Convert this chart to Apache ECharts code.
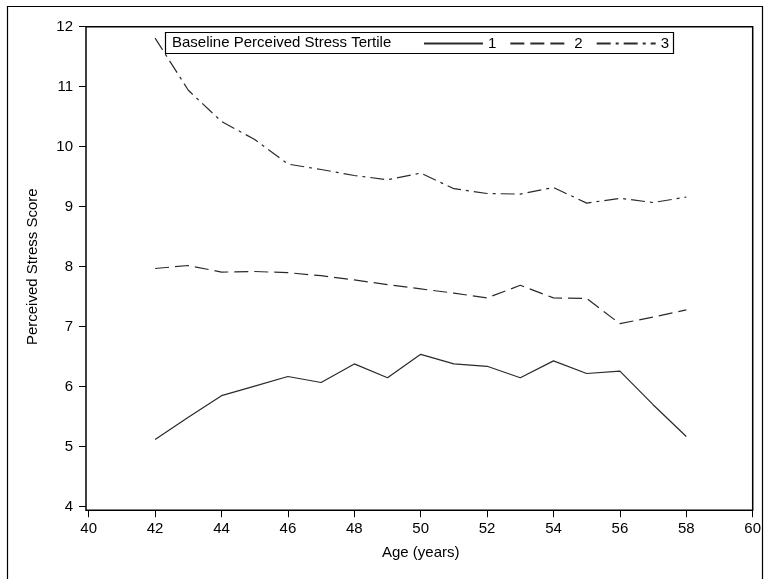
<!DOCTYPE html>
<html>
<head>
<meta charset="utf-8">
<script src="https://cdn.jsdelivr.net/npm/echarts@6/dist/echarts.min.js"></script>
<style>
  html, body { margin: 0; padding: 0; background: #fff; }
  #chart { width: 765px; height: 579px; }
</style>
</head>
<body>
<div id="chart"></div>
<script>
// Mean perceived stress score by age, split by baseline stress tertile
const ages = [42, 43, 44, 45, 46, 47, 48, 49, 50, 51, 52, 53, 54, 55, 56, 57, 58];
const tertile1 = [5.12, 5.49, 5.85, 6.01, 6.17, 6.07, 6.38, 6.15, 6.54, 6.38, 6.34, 6.15, 6.43, 6.22, 6.26, 5.70, 5.17];
const tertile2 = [7.97, 8.02, 7.91, 7.92, 7.90, 7.85, 7.78, 7.70, 7.63, 7.56, 7.48, 7.69, 7.48, 7.47, 7.05, 7.16, 7.28];
const tertile3 = [11.81, 10.94, 10.42, 10.12, 9.71, 9.62, 9.52, 9.45, 9.56, 9.30, 9.22, 9.21, 9.32, 9.06, 9.14, 9.07, 9.16];
const seriesNames = ['1', '2', '3'];
const legendTitle = 'Baseline Perceived Stress Tertile';
const xRange = { min: 40, max: 60, step: 2 };
const yRange = { min: 4, max: 12, step: 1 };

const FONT = '"Liberation Sans", Arial, sans-serif';
const INK = '#000';
const LINE = '#2a2a2a';

const pairs = (ys) => ages.map((a, i) => [a, ys[i]]);

const chart = echarts.init(document.getElementById('chart'), null, { renderer: 'canvas' });

const lineSeries = (name, ys, type) => ({
  name,
  type: 'line',
  data: pairs(ys),
  symbol: 'none',
  showSymbol: false,
  silent: true,
  animation: false,
  z: 2,
  lineStyle: { color: LINE, width: 1.2, type },
  itemStyle: { color: LINE }
});

chart.setOption({
  animation: false,
  backgroundColor: '#fff',
  grid: { left: 88.7, right: 12.3, top: 26.7, bottom: 72.3, containLabel: false },
  xAxis: {
    type: 'value',
    min: xRange.min, max: xRange.max, interval: xRange.step,
    offset: 3.5,
    name: 'Age (years)',
    nameLocation: 'middle',
    nameGap: 35,
    nameTextStyle: { color: INK, fontSize: 15, fontFamily: FONT },
    axisLine: { show: false },
    axisTick: { show: true, length: 7, lineStyle: { color: INK, width: 1 } },
    axisLabel: { color: INK, fontSize: 15, fontFamily: FONT, margin: 11 },
    splitLine: { show: false }
  },
  yAxis: {
    type: 'value',
    min: yRange.min, max: yRange.max, interval: yRange.step,
    offset: 2.7,
    name: 'Perceived Stress Score',
    nameLocation: 'middle',
    nameGap: 46,
    nameTextStyle: { color: INK, fontSize: 15, fontFamily: FONT },
    axisLine: { show: false },
    axisTick: { show: true, length: 7, lineStyle: { color: INK, width: 1 } },
    axisLabel: { color: INK, fontSize: 15, fontFamily: FONT, margin: 13 },
    splitLine: { show: false }
  },
  legend: {
    data: seriesNames,
    left: 423, top: 36,
    orient: 'horizontal',
    padding: 0,
    itemWidth: 59, itemHeight: 14, itemGap: 13,
    z: 10,
    selectedMode: false,
    // line samples only, no marker in the middle
    itemStyle: { opacity: 0 },
    textStyle: { color: INK, fontSize: 15, fontFamily: FONT }
  },
  series: [
    lineSeries(seriesNames[0], tertile1, 'solid'),
    lineSeries(seriesNames[1], tertile2, [14, 6]),
    lineSeries(seriesNames[2], tertile3, [14, 5, 3, 5])
  ]
});

// Plot frame sits slightly outside the 40 / 4 origin, like the axis offsets
const lo = chart.convertToPixel({ gridIndex: 0 }, [xRange.min, yRange.min]);
const hi = chart.convertToPixel({ gridIndex: 0 }, [xRange.max, yRange.max]);
const frameLeft = lo[0] - 2.7;
const frameBottom = lo[1] + 3.5;

chart.setOption({
  graphic: [
    {
      id: 'outer', type: 'rect', silent: true, z: 0,
      shape: { x: 7.5, y: 6.5, width: 755, height: 600 },
      style: { fill: 'none', stroke: INK, lineWidth: 1.2 }
    },
    {
      id: 'plotFrame', type: 'rect', silent: true, z: 3,
      shape: { x: frameLeft, y: hi[1], width: hi[0] - frameLeft, height: frameBottom - hi[1] },
      style: { fill: 'none', stroke: INK, lineWidth: 1.5 }
    },
    {
      id: 'legendBox', type: 'rect', silent: true, z: 5,
      shape: { x: 165.5, y: 32.5, width: 508, height: 21 },
      style: { fill: '#fff', stroke: INK, lineWidth: 1.2 }
    },
    {
      id: 'legendTitle', type: 'text', silent: true, z: 6,
      x: 172, y: 43,
      style: {
        text: legendTitle, fill: INK, fontSize: 15, fontFamily: FONT,
        textAlign: 'left', textVerticalAlign: 'middle'
      }
    }
  ]
});
</script>
</body>
</html>
